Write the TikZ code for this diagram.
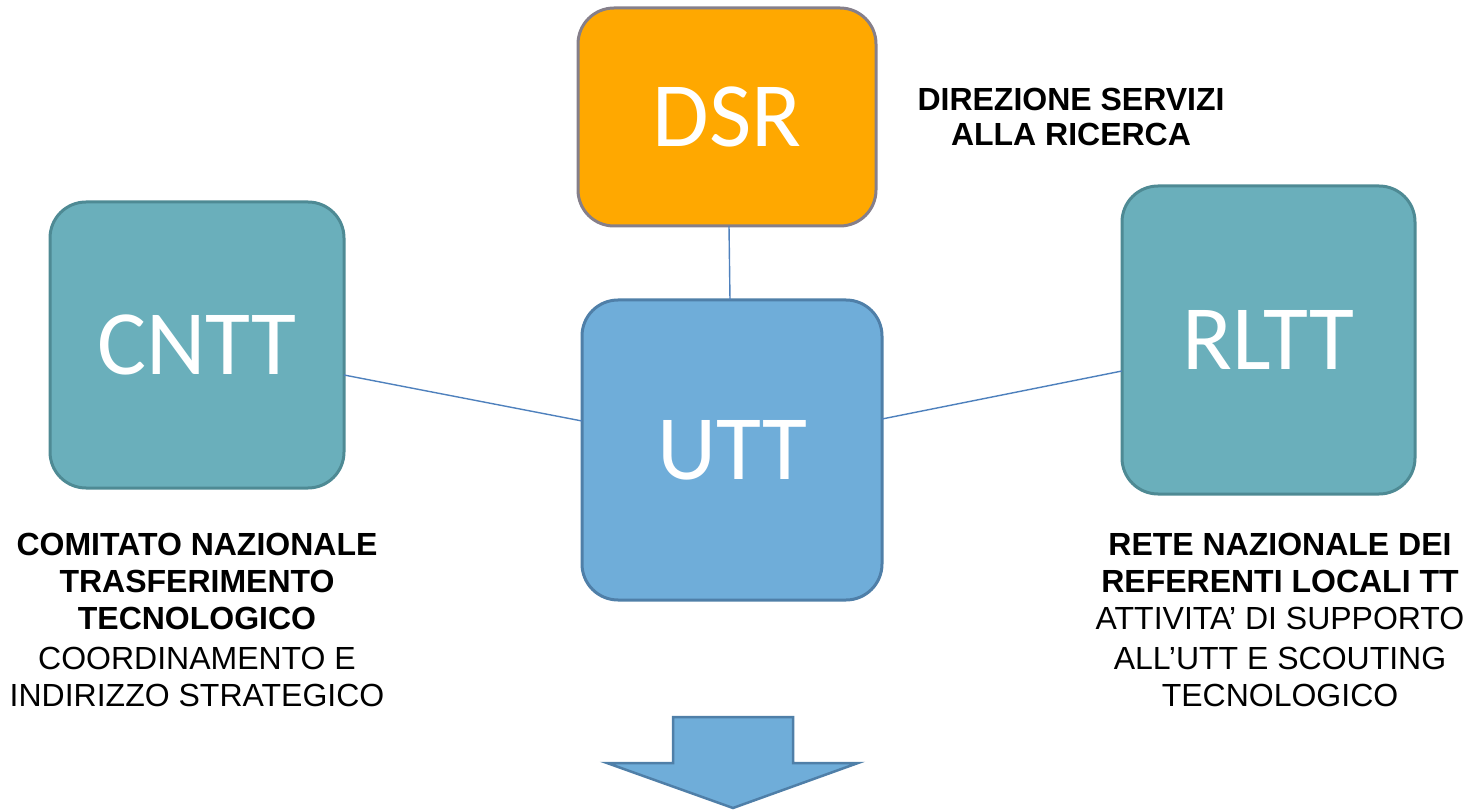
\documentclass[tikz,border=0pt]{standalone}
\usepackage{fontspec}
\setmainfont{Liberation Sans}
\newfontfamily\boxfont{Carlito}
\definecolor{orangefill}{HTML}{FFA800}
\definecolor{greyedge}{HTML}{857F8A}
\definecolor{tealfill}{HTML}{6AAFBB}
\definecolor{tealedge}{HTML}{4E8A94}
\definecolor{bluefill}{HTML}{6FADD9}
\definecolor{blueedge}{HTML}{4F7FA8}
\definecolor{linkcol}{HTML}{4F81BD}
\tikzset{
  card/.style={draw, line width=3pt, rounded corners=36pt, text=white,
    font=\boxfont\fontsize{92}{100}\selectfont, inner sep=0pt},
  label/.style={align=center, font=\fontsize{32}{37}\selectfont, inner sep=0pt},
  link/.style={draw=linkcol, line width=1.4pt}
}
\begin{document}
\begin{tikzpicture}[x=1pt,y=-1pt]
\useasboundingbox (0,0) rectangle (1468,810);
\node[card, fill=orangefill, draw=greyedge, minimum width=298pt, minimum height=218pt] (dsr) at (727,117) {DSR};
\node[card, fill=tealfill, draw=tealedge, minimum width=294pt, minimum height=286pt] (cntt) at (197,345) {CNTT};
\node[card, fill=tealfill, draw=tealedge, minimum width=293pt, minimum height=308pt] (rltt) at (1268.5,340) {RLTT};
\node[card, fill=bluefill, draw=blueedge, minimum width=300pt, minimum height=300pt] (utt) at (732,450) {UTT};
\coordinate (dsrb) at (729,226);
\coordinate (uttt) at (730,300);
\draw[link] (dsrb) -- (uttt);
\coordinate (cnttr) at (344,375);
\coordinate (uttl) at (582,421);
\draw[link] (cnttr) -- (uttl);
\coordinate (uttr) at (882,419);
\coordinate (rlttl) at (1122,371);
\draw[link] (uttr) -- (rlttl);
\node[label, font=\bfseries\fontsize{32}{35}\selectfont] (dirlab) at (1071,117) {DIREZIONE SERVIZI\\ALLA RICERCA};
\node[label, anchor=north] (cnttlab) at (197,533) {\textbf{COMITATO NAZIONALE}\\\textbf{TRASFERIMENTO}\\\textbf{TECNOLOGICO}\\[3pt]COORDINAMENTO E\\INDIRIZZO STRATEGICO};
\node[label, anchor=north] (rlttlab) at (1280,533) {\textbf{RETE NAZIONALE DEI}\\\textbf{REFERENTI LOCALI TT}\\ATTIVITA’ DI SUPPORTO\\[3pt]ALL’UTT E SCOUTING\\TECNOLOGICO};
\draw[draw=blueedge, fill=bluefill, line width=2.5pt, line join=miter]
  (673,717) -- (793,717) -- (793,763) -- (858,763) -- (733,808) -- (607,763) -- (673,763) -- cycle;
\end{tikzpicture}
\end{document}
